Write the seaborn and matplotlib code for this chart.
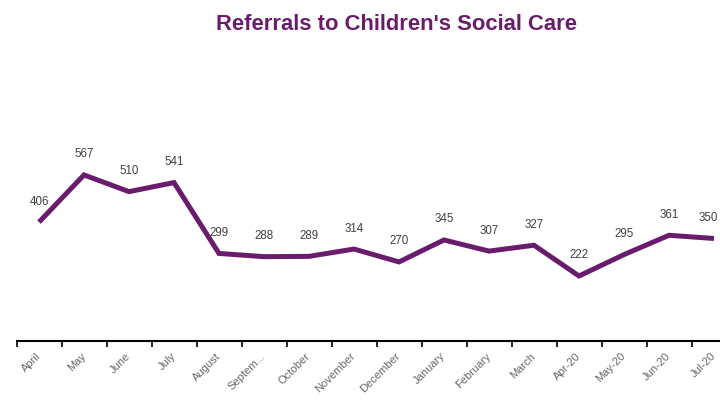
import matplotlib.pyplot as plt
import seaborn as sns

months = ["April", "May", "June", "July", "August", "Septem...", "October",
          "November", "December", "January", "February", "March",
          "Apr-20", "May-20", "Jun-20", "Jul-20"]
referrals = [406, 567, 510, 541, 299, 288, 289, 314, 270, 345, 307, 327,
             222, 295, 361, 350]

sns.set_style("white")
plt.rcParams['font.family'] = ['Liberation Sans', 'DejaVu Sans']

line_color = "#6a1c6c"
text_gray = "#666666"

fig = plt.figure(figsize=(7.2, 4.06), dpi=100)
# axes spans one category beyond the right edge, like the cropped original
ax = fig.add_axes([16.5 / 720, 64 / 406, 720 / 720, 205 / 406])

x = list(range(len(months)))
sns.lineplot(x=x, y=referrals, ax=ax, color=line_color, linewidth=3.6,
             solid_joinstyle='miter', solid_capstyle='butt')

for xi, v in zip(x, referrals):
    last = xi == x[-1]
    ax.annotate(str(v), (xi, v), xytext=(3 if last else 0, 15.5),
                textcoords='offset points',
                ha='right' if last else 'center', va='center',
                fontsize=8.3, color="#404040",
                xycoords='data')

ax.set_xlim(-0.5, len(months) - 0.5)
ax.set_ylim(0, 700)

ax.set_xticks(x)
ax.set_xticklabels(months, rotation=45, ha='right', va='center',
                   rotation_mode='anchor', fontsize=8, color=text_gray)
ax.set_xticks([i - 0.5 for i in range(len(months) + 1)], minor=True)
ax.tick_params(axis='x', which='major', length=0, pad=9)
ax.tick_params(axis='x', which='minor', length=4, width=1.2, color='black',
               direction='out', bottom=True)
ax.set_yticks([])

for side in ['top', 'right', 'left']:
    ax.spines[side].set_visible(False)
ax.spines['bottom'].set_color('black')
ax.spines['bottom'].set_linewidth(1.5)

fig.text(396 / 720, 1 - 24 / 406, "Referrals to Children's Social Care",
         ha='center', va='center', fontsize=15.8, fontweight='bold',
         color=line_color)

fig.savefig("out.png", dpi=100)
